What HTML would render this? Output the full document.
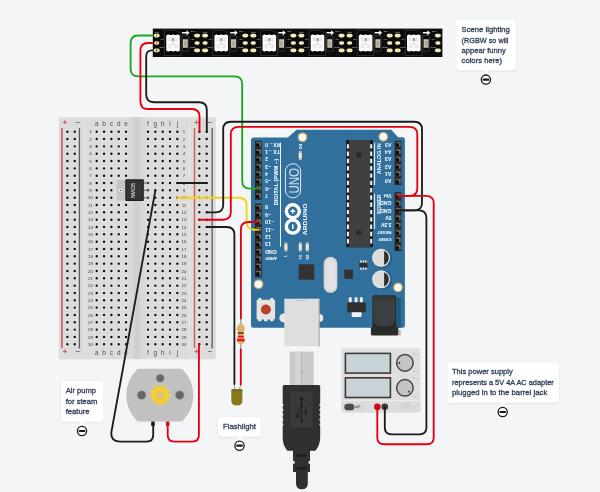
<!DOCTYPE html>
<html><head><meta charset="utf-8"><title>Circuit</title>
<style>html,body{margin:0;padding:0;background:#f4f5f7;}svg{display:block;will-change:transform}text{font-family:"Liberation Sans", sans-serif;}</style></head><body>
<svg width="600" height="492" viewBox="0 0 600 492">
<rect width="600" height="492" fill="#f4f5f7"/>
<g id="strip">
<rect x="152.8" y="28.6" width="289.6" height="28.4" fill="#0b0b0b"/>
<rect x="153.7" y="33.8" width="6" height="3.6" rx="1.8" fill="#f3e9b8"/>
<rect x="154.1" y="41.2" width="5.2" height="3.6" rx="1.8" fill="#f3e9b8"/>
<rect x="153.7" y="48.6" width="6" height="3.6" rx="1.8" fill="#f3e9b8"/>
<circle cx="156.7" cy="35.6" r="0.8" fill="#2aa52a"/>
<circle cx="156.7" cy="43" r="0.8" fill="#e03020"/>
<circle cx="156.7" cy="50.4" r="0.8" fill="#222"/>
<text x="157" y="32.6" font-size="2.5" fill="#cfcfcf" text-anchor="middle">DIN</text>
<text x="162" y="40.3" font-size="2.5" fill="#cfcfcf" text-anchor="middle">+5V</text>
<text x="162" y="47.6" font-size="2.5" fill="#cfcfcf" text-anchor="middle">GND</text>
<path d="M164.5,30.2 H177.0 L181.1,34 V55.6 H164.5 Z" fill="#060606" stroke="#4a4a4a" stroke-width="0.6"/>
<rect x="166.2" y="35.1" width="13.6" height="15.8" rx="1" fill="#fbfbfb"/>
<rect x="167.1" y="34.5" width="2.6" height="17" rx="0.8" fill="#fbfbfb"/>
<rect x="171.7" y="34.5" width="2.6" height="17" rx="0.8" fill="#fbfbfb"/>
<rect x="176.3" y="34.5" width="2.6" height="17" rx="0.8" fill="#fbfbfb"/>
<rect x="168.3" y="37.6" width="3.4" height="4" rx="0.8" fill="#ebe6ea"/>
<rect x="174.3" y="37.6" width="3.4" height="4" rx="0.8" fill="#e8e9ee"/>
<rect x="168.3" y="44" width="3.4" height="4" rx="0.8" fill="#e9ece8"/>
<rect x="174.3" y="44" width="3.4" height="4" rx="0.8" fill="#eee9e3"/>
<circle cx="173.0" cy="43.6" r="1.3" fill="#e0dcde"/>
<rect x="172.2" y="38" width="1.7" height="3.2" fill="#8e8e92"/>
<rect x="182.0" y="35.4" width="6.6" height="16" rx="1.4" fill="none" stroke="#444" stroke-width="0.7"/>
<rect x="182.9" y="39.3" width="4.8" height="8.4" fill="#d6d6d6"/>
<rect x="183.6" y="40.5" width="3.4" height="6" fill="#b9a888"/>
<path d="M182.1,32.1 h4.4 v-1.9 l3,2.6 l-3,2.6 v-1.9 h-4.4 z" fill="#f6f6f6"/>
<text x="191.1" y="31.8" font-size="2.5" fill="#cfcfcf">DO</text>
<rect x="194.1" y="33.8" width="6" height="3.6" rx="1.8" fill="#f3e9b8"/>
<rect x="194.5" y="41.2" width="5.2" height="3.6" rx="1.8" fill="#f3e9b8"/>
<rect x="194.1" y="48.6" width="6" height="3.6" rx="1.8" fill="#f3e9b8"/>
<text x="192.5" y="40.3" font-size="2.5" fill="#cfcfcf" text-anchor="middle">+5V</text>
<text x="192.5" y="47.6" font-size="2.5" fill="#cfcfcf" text-anchor="middle">GND</text>
<rect x="202.1" y="33.8" width="6" height="3.6" rx="1.8" fill="#f3e9b8"/>
<rect x="202.5" y="41.2" width="5.2" height="3.6" rx="1.8" fill="#f3e9b8"/>
<rect x="202.1" y="48.6" width="6" height="3.6" rx="1.8" fill="#f3e9b8"/>
<text x="205.1" y="32.6" font-size="2.5" fill="#cfcfcf" text-anchor="middle">DIN</text>
<text x="210.3" y="40.3" font-size="2.5" fill="#cfcfcf" text-anchor="middle">+5V</text>
<text x="210.3" y="47.6" font-size="2.5" fill="#cfcfcf" text-anchor="middle">GND</text>
<path d="M212.7,30.2 H225.2 L229.3,34 V55.6 H212.7 Z" fill="#060606" stroke="#4a4a4a" stroke-width="0.6"/>
<rect x="214.4" y="35.1" width="13.6" height="15.8" rx="1" fill="#fbfbfb"/>
<rect x="215.3" y="34.5" width="2.6" height="17" rx="0.8" fill="#fbfbfb"/>
<rect x="219.9" y="34.5" width="2.6" height="17" rx="0.8" fill="#fbfbfb"/>
<rect x="224.5" y="34.5" width="2.6" height="17" rx="0.8" fill="#fbfbfb"/>
<rect x="216.5" y="37.6" width="3.4" height="4" rx="0.8" fill="#ebe6ea"/>
<rect x="222.5" y="37.6" width="3.4" height="4" rx="0.8" fill="#e8e9ee"/>
<rect x="216.5" y="44" width="3.4" height="4" rx="0.8" fill="#e9ece8"/>
<rect x="222.5" y="44" width="3.4" height="4" rx="0.8" fill="#eee9e3"/>
<circle cx="221.2" cy="43.6" r="1.3" fill="#e0dcde"/>
<rect x="220.4" y="38" width="1.7" height="3.2" fill="#8e8e92"/>
<rect x="230.2" y="35.4" width="6.6" height="16" rx="1.4" fill="none" stroke="#444" stroke-width="0.7"/>
<rect x="231.1" y="39.3" width="4.8" height="8.4" fill="#d6d6d6"/>
<rect x="231.8" y="40.5" width="3.4" height="6" fill="#b9a888"/>
<path d="M230.3,32.1 h4.4 v-1.9 l3,2.6 l-3,2.6 v-1.9 h-4.4 z" fill="#f6f6f6"/>
<text x="239.3" y="31.8" font-size="2.5" fill="#cfcfcf">DO</text>
<rect x="242.3" y="33.8" width="6" height="3.6" rx="1.8" fill="#f3e9b8"/>
<rect x="242.7" y="41.2" width="5.2" height="3.6" rx="1.8" fill="#f3e9b8"/>
<rect x="242.3" y="48.6" width="6" height="3.6" rx="1.8" fill="#f3e9b8"/>
<text x="240.7" y="40.3" font-size="2.5" fill="#cfcfcf" text-anchor="middle">+5V</text>
<text x="240.7" y="47.6" font-size="2.5" fill="#cfcfcf" text-anchor="middle">GND</text>
<rect x="250.3" y="33.8" width="6" height="3.6" rx="1.8" fill="#f3e9b8"/>
<rect x="250.7" y="41.2" width="5.2" height="3.6" rx="1.8" fill="#f3e9b8"/>
<rect x="250.3" y="48.6" width="6" height="3.6" rx="1.8" fill="#f3e9b8"/>
<text x="253.3" y="32.6" font-size="2.5" fill="#cfcfcf" text-anchor="middle">DIN</text>
<text x="258.5" y="40.3" font-size="2.5" fill="#cfcfcf" text-anchor="middle">+5V</text>
<text x="258.5" y="47.6" font-size="2.5" fill="#cfcfcf" text-anchor="middle">GND</text>
<path d="M260.8,30.2 H273.3 L277.4,34 V55.6 H260.8 Z" fill="#060606" stroke="#4a4a4a" stroke-width="0.6"/>
<rect x="262.5" y="35.1" width="13.6" height="15.8" rx="1" fill="#fbfbfb"/>
<rect x="263.4" y="34.5" width="2.6" height="17" rx="0.8" fill="#fbfbfb"/>
<rect x="268.0" y="34.5" width="2.6" height="17" rx="0.8" fill="#fbfbfb"/>
<rect x="272.6" y="34.5" width="2.6" height="17" rx="0.8" fill="#fbfbfb"/>
<rect x="264.6" y="37.6" width="3.4" height="4" rx="0.8" fill="#ebe6ea"/>
<rect x="270.6" y="37.6" width="3.4" height="4" rx="0.8" fill="#e8e9ee"/>
<rect x="264.6" y="44" width="3.4" height="4" rx="0.8" fill="#e9ece8"/>
<rect x="270.6" y="44" width="3.4" height="4" rx="0.8" fill="#eee9e3"/>
<circle cx="269.3" cy="43.6" r="1.3" fill="#e0dcde"/>
<rect x="268.5" y="38" width="1.7" height="3.2" fill="#8e8e92"/>
<rect x="278.3" y="35.4" width="6.6" height="16" rx="1.4" fill="none" stroke="#444" stroke-width="0.7"/>
<rect x="279.2" y="39.3" width="4.8" height="8.4" fill="#d6d6d6"/>
<rect x="279.9" y="40.5" width="3.4" height="6" fill="#b9a888"/>
<path d="M278.4,32.1 h4.4 v-1.9 l3,2.6 l-3,2.6 v-1.9 h-4.4 z" fill="#f6f6f6"/>
<text x="287.4" y="31.8" font-size="2.5" fill="#cfcfcf">DO</text>
<rect x="290.4" y="33.8" width="6" height="3.6" rx="1.8" fill="#f3e9b8"/>
<rect x="290.8" y="41.2" width="5.2" height="3.6" rx="1.8" fill="#f3e9b8"/>
<rect x="290.4" y="48.6" width="6" height="3.6" rx="1.8" fill="#f3e9b8"/>
<text x="288.8" y="40.3" font-size="2.5" fill="#cfcfcf" text-anchor="middle">+5V</text>
<text x="288.8" y="47.6" font-size="2.5" fill="#cfcfcf" text-anchor="middle">GND</text>
<rect x="298.4" y="33.8" width="6" height="3.6" rx="1.8" fill="#f3e9b8"/>
<rect x="298.8" y="41.2" width="5.2" height="3.6" rx="1.8" fill="#f3e9b8"/>
<rect x="298.4" y="48.6" width="6" height="3.6" rx="1.8" fill="#f3e9b8"/>
<text x="301.4" y="32.6" font-size="2.5" fill="#cfcfcf" text-anchor="middle">DIN</text>
<text x="306.6" y="40.3" font-size="2.5" fill="#cfcfcf" text-anchor="middle">+5V</text>
<text x="306.6" y="47.6" font-size="2.5" fill="#cfcfcf" text-anchor="middle">GND</text>
<path d="M309.0,30.2 H321.5 L325.6,34 V55.6 H309.0 Z" fill="#060606" stroke="#4a4a4a" stroke-width="0.6"/>
<rect x="310.7" y="35.1" width="13.6" height="15.8" rx="1" fill="#fbfbfb"/>
<rect x="311.6" y="34.5" width="2.6" height="17" rx="0.8" fill="#fbfbfb"/>
<rect x="316.2" y="34.5" width="2.6" height="17" rx="0.8" fill="#fbfbfb"/>
<rect x="320.8" y="34.5" width="2.6" height="17" rx="0.8" fill="#fbfbfb"/>
<rect x="312.8" y="37.6" width="3.4" height="4" rx="0.8" fill="#ebe6ea"/>
<rect x="318.8" y="37.6" width="3.4" height="4" rx="0.8" fill="#e8e9ee"/>
<rect x="312.8" y="44" width="3.4" height="4" rx="0.8" fill="#e9ece8"/>
<rect x="318.8" y="44" width="3.4" height="4" rx="0.8" fill="#eee9e3"/>
<circle cx="317.5" cy="43.6" r="1.3" fill="#e0dcde"/>
<rect x="316.7" y="38" width="1.7" height="3.2" fill="#8e8e92"/>
<rect x="326.5" y="35.4" width="6.6" height="16" rx="1.4" fill="none" stroke="#444" stroke-width="0.7"/>
<rect x="327.4" y="39.3" width="4.8" height="8.4" fill="#d6d6d6"/>
<rect x="328.1" y="40.5" width="3.4" height="6" fill="#b9a888"/>
<path d="M326.6,32.1 h4.4 v-1.9 l3,2.6 l-3,2.6 v-1.9 h-4.4 z" fill="#f6f6f6"/>
<text x="335.6" y="31.8" font-size="2.5" fill="#cfcfcf">DO</text>
<rect x="338.6" y="33.8" width="6" height="3.6" rx="1.8" fill="#f3e9b8"/>
<rect x="339.0" y="41.2" width="5.2" height="3.6" rx="1.8" fill="#f3e9b8"/>
<rect x="338.6" y="48.6" width="6" height="3.6" rx="1.8" fill="#f3e9b8"/>
<text x="337.0" y="40.3" font-size="2.5" fill="#cfcfcf" text-anchor="middle">+5V</text>
<text x="337.0" y="47.6" font-size="2.5" fill="#cfcfcf" text-anchor="middle">GND</text>
<rect x="346.6" y="33.8" width="6" height="3.6" rx="1.8" fill="#f3e9b8"/>
<rect x="347.0" y="41.2" width="5.2" height="3.6" rx="1.8" fill="#f3e9b8"/>
<rect x="346.6" y="48.6" width="6" height="3.6" rx="1.8" fill="#f3e9b8"/>
<text x="349.6" y="32.6" font-size="2.5" fill="#cfcfcf" text-anchor="middle">DIN</text>
<text x="354.8" y="40.3" font-size="2.5" fill="#cfcfcf" text-anchor="middle">+5V</text>
<text x="354.8" y="47.6" font-size="2.5" fill="#cfcfcf" text-anchor="middle">GND</text>
<path d="M357.1,30.2 H369.6 L373.7,34 V55.6 H357.1 Z" fill="#060606" stroke="#4a4a4a" stroke-width="0.6"/>
<rect x="358.8" y="35.1" width="13.6" height="15.8" rx="1" fill="#fbfbfb"/>
<rect x="359.7" y="34.5" width="2.6" height="17" rx="0.8" fill="#fbfbfb"/>
<rect x="364.3" y="34.5" width="2.6" height="17" rx="0.8" fill="#fbfbfb"/>
<rect x="368.9" y="34.5" width="2.6" height="17" rx="0.8" fill="#fbfbfb"/>
<rect x="360.9" y="37.6" width="3.4" height="4" rx="0.8" fill="#ebe6ea"/>
<rect x="366.9" y="37.6" width="3.4" height="4" rx="0.8" fill="#e8e9ee"/>
<rect x="360.9" y="44" width="3.4" height="4" rx="0.8" fill="#e9ece8"/>
<rect x="366.9" y="44" width="3.4" height="4" rx="0.8" fill="#eee9e3"/>
<circle cx="365.6" cy="43.6" r="1.3" fill="#e0dcde"/>
<rect x="364.8" y="38" width="1.7" height="3.2" fill="#8e8e92"/>
<rect x="374.6" y="35.4" width="6.6" height="16" rx="1.4" fill="none" stroke="#444" stroke-width="0.7"/>
<rect x="375.5" y="39.3" width="4.8" height="8.4" fill="#d6d6d6"/>
<rect x="376.2" y="40.5" width="3.4" height="6" fill="#b9a888"/>
<path d="M374.7,32.1 h4.4 v-1.9 l3,2.6 l-3,2.6 v-1.9 h-4.4 z" fill="#f6f6f6"/>
<text x="383.7" y="31.8" font-size="2.5" fill="#cfcfcf">DO</text>
<rect x="386.7" y="33.8" width="6" height="3.6" rx="1.8" fill="#f3e9b8"/>
<rect x="387.1" y="41.2" width="5.2" height="3.6" rx="1.8" fill="#f3e9b8"/>
<rect x="386.7" y="48.6" width="6" height="3.6" rx="1.8" fill="#f3e9b8"/>
<text x="385.1" y="40.3" font-size="2.5" fill="#cfcfcf" text-anchor="middle">+5V</text>
<text x="385.1" y="47.6" font-size="2.5" fill="#cfcfcf" text-anchor="middle">GND</text>
<rect x="394.7" y="33.8" width="6" height="3.6" rx="1.8" fill="#f3e9b8"/>
<rect x="395.1" y="41.2" width="5.2" height="3.6" rx="1.8" fill="#f3e9b8"/>
<rect x="394.7" y="48.6" width="6" height="3.6" rx="1.8" fill="#f3e9b8"/>
<text x="397.7" y="32.6" font-size="2.5" fill="#cfcfcf" text-anchor="middle">DIN</text>
<text x="402.9" y="40.3" font-size="2.5" fill="#cfcfcf" text-anchor="middle">+5V</text>
<text x="402.9" y="47.6" font-size="2.5" fill="#cfcfcf" text-anchor="middle">GND</text>
<path d="M405.3,30.2 H417.8 L421.9,34 V55.6 H405.3 Z" fill="#060606" stroke="#4a4a4a" stroke-width="0.6"/>
<rect x="407.0" y="35.1" width="13.6" height="15.8" rx="1" fill="#fbfbfb"/>
<rect x="407.9" y="34.5" width="2.6" height="17" rx="0.8" fill="#fbfbfb"/>
<rect x="412.5" y="34.5" width="2.6" height="17" rx="0.8" fill="#fbfbfb"/>
<rect x="417.1" y="34.5" width="2.6" height="17" rx="0.8" fill="#fbfbfb"/>
<rect x="409.1" y="37.6" width="3.4" height="4" rx="0.8" fill="#ebe6ea"/>
<rect x="415.1" y="37.6" width="3.4" height="4" rx="0.8" fill="#e8e9ee"/>
<rect x="409.1" y="44" width="3.4" height="4" rx="0.8" fill="#e9ece8"/>
<rect x="415.1" y="44" width="3.4" height="4" rx="0.8" fill="#eee9e3"/>
<circle cx="413.8" cy="43.6" r="1.3" fill="#e0dcde"/>
<rect x="413.0" y="38" width="1.7" height="3.2" fill="#8e8e92"/>
<rect x="422.8" y="35.4" width="6.6" height="16" rx="1.4" fill="none" stroke="#444" stroke-width="0.7"/>
<rect x="423.7" y="39.3" width="4.8" height="8.4" fill="#d6d6d6"/>
<rect x="424.4" y="40.5" width="3.4" height="6" fill="#b9a888"/>
<path d="M422.9,32.1 h4.4 v-1.9 l3,2.6 l-3,2.6 v-1.9 h-4.4 z" fill="#f6f6f6"/>
<text x="431.9" y="31.8" font-size="2.5" fill="#cfcfcf">DO</text>
<rect x="434.9" y="33.8" width="6" height="3.6" rx="1.8" fill="#f3e9b8"/>
<rect x="435.3" y="41.2" width="5.2" height="3.6" rx="1.8" fill="#f3e9b8"/>
<rect x="434.9" y="48.6" width="6" height="3.6" rx="1.8" fill="#f3e9b8"/>
<text x="433.3" y="40.3" font-size="2.5" fill="#cfcfcf" text-anchor="middle">+5V</text>
<text x="433.3" y="47.6" font-size="2.5" fill="#cfcfcf" text-anchor="middle">GND</text>
</g>
<g id="breadboard">
<rect x="58.8" y="116.9" width="157" height="242.4" rx="2" fill="#dcdcdc"/>
<rect x="58.8" y="116.9" width="157" height="1" fill="#e6e6e6"/>
<rect x="84.6" y="117" width="1" height="241.8" fill="#e6e6e6"/>
<rect x="189" y="117" width="1" height="241.8" fill="#e6e6e6"/>
<rect x="133.8" y="117" width="6.2" height="241.8" fill="#d0d0d0"/>
<rect x="128.6" y="117" width="5.2" height="241.8" fill="#d8d8d8"/>
<rect x="140" y="117" width="5.2" height="241.8" fill="#d8d8d8"/>
<rect x="61.1" y="128" width="1.6" height="220" fill="#cc5f58"/>
<rect x="78.8" y="128" width="1.3" height="220.4" fill="#5a5a5a"/>
<rect x="193.8" y="128" width="1.4" height="220" fill="#cc5f58"/>
<rect x="211.5" y="128" width="1.3" height="220.4" fill="#5a5a5a"/>
<path d="M67.40,131.70h0M67.40,139.03h0M67.40,146.36h0M67.40,153.69h0M67.40,161.02h0M67.40,168.35h0M67.40,175.68h0M67.40,183.01h0M67.40,190.34h0M67.40,197.67h0M67.40,205.00h0M67.40,212.33h0M67.40,219.66h0M67.40,226.99h0M67.40,234.32h0M67.40,241.65h0M67.40,248.98h0M67.40,256.31h0M67.40,263.64h0M67.40,270.97h0M67.40,278.30h0M67.40,285.63h0M67.40,292.96h0M67.40,300.29h0M67.40,307.62h0M67.40,314.95h0M67.40,322.28h0M67.40,329.61h0M67.40,336.94h0M67.40,344.27h0M74.73,131.70h0M74.73,139.03h0M74.73,146.36h0M74.73,153.69h0M74.73,161.02h0M74.73,168.35h0M74.73,175.68h0M74.73,183.01h0M74.73,190.34h0M74.73,197.67h0M74.73,205.00h0M74.73,212.33h0M74.73,219.66h0M74.73,226.99h0M74.73,234.32h0M74.73,241.65h0M74.73,248.98h0M74.73,256.31h0M74.73,263.64h0M74.73,270.97h0M74.73,278.30h0M74.73,285.63h0M74.73,292.96h0M74.73,300.29h0M74.73,307.62h0M74.73,314.95h0M74.73,322.28h0M74.73,329.61h0M74.73,336.94h0M74.73,344.27h0M96.72,131.70h0M96.72,139.03h0M96.72,146.36h0M96.72,153.69h0M96.72,161.02h0M96.72,168.35h0M96.72,175.68h0M96.72,183.01h0M96.72,190.34h0M96.72,197.67h0M96.72,205.00h0M96.72,212.33h0M96.72,219.66h0M96.72,226.99h0M96.72,234.32h0M96.72,241.65h0M96.72,248.98h0M96.72,256.31h0M96.72,263.64h0M96.72,270.97h0M96.72,278.30h0M96.72,285.63h0M96.72,292.96h0M96.72,300.29h0M96.72,307.62h0M96.72,314.95h0M96.72,322.28h0M96.72,329.61h0M96.72,336.94h0M96.72,344.27h0M104.05,131.70h0M104.05,139.03h0M104.05,146.36h0M104.05,153.69h0M104.05,161.02h0M104.05,168.35h0M104.05,175.68h0M104.05,183.01h0M104.05,190.34h0M104.05,197.67h0M104.05,205.00h0M104.05,212.33h0M104.05,219.66h0M104.05,226.99h0M104.05,234.32h0M104.05,241.65h0M104.05,248.98h0M104.05,256.31h0M104.05,263.64h0M104.05,270.97h0M104.05,278.30h0M104.05,285.63h0M104.05,292.96h0M104.05,300.29h0M104.05,307.62h0M104.05,314.95h0M104.05,322.28h0M104.05,329.61h0M104.05,336.94h0M104.05,344.27h0M111.38,131.70h0M111.38,139.03h0M111.38,146.36h0M111.38,153.69h0M111.38,161.02h0M111.38,168.35h0M111.38,175.68h0M111.38,183.01h0M111.38,190.34h0M111.38,197.67h0M111.38,205.00h0M111.38,212.33h0M111.38,219.66h0M111.38,226.99h0M111.38,234.32h0M111.38,241.65h0M111.38,248.98h0M111.38,256.31h0M111.38,263.64h0M111.38,270.97h0M111.38,278.30h0M111.38,285.63h0M111.38,292.96h0M111.38,300.29h0M111.38,307.62h0M111.38,314.95h0M111.38,322.28h0M111.38,329.61h0M111.38,336.94h0M111.38,344.27h0M118.71,131.70h0M118.71,139.03h0M118.71,146.36h0M118.71,153.69h0M118.71,161.02h0M118.71,168.35h0M118.71,175.68h0M118.71,183.01h0M118.71,190.34h0M118.71,197.67h0M118.71,205.00h0M118.71,212.33h0M118.71,219.66h0M118.71,226.99h0M118.71,234.32h0M118.71,241.65h0M118.71,248.98h0M118.71,256.31h0M118.71,263.64h0M118.71,270.97h0M118.71,278.30h0M118.71,285.63h0M118.71,292.96h0M118.71,300.29h0M118.71,307.62h0M118.71,314.95h0M118.71,322.28h0M118.71,329.61h0M118.71,336.94h0M118.71,344.27h0M126.04,131.70h0M126.04,139.03h0M126.04,146.36h0M126.04,153.69h0M126.04,161.02h0M126.04,168.35h0M126.04,175.68h0M126.04,183.01h0M126.04,190.34h0M126.04,197.67h0M126.04,205.00h0M126.04,212.33h0M126.04,219.66h0M126.04,226.99h0M126.04,234.32h0M126.04,241.65h0M126.04,248.98h0M126.04,256.31h0M126.04,263.64h0M126.04,270.97h0M126.04,278.30h0M126.04,285.63h0M126.04,292.96h0M126.04,300.29h0M126.04,307.62h0M126.04,314.95h0M126.04,322.28h0M126.04,329.61h0M126.04,336.94h0M126.04,344.27h0M148.03,131.70h0M148.03,139.03h0M148.03,146.36h0M148.03,153.69h0M148.03,161.02h0M148.03,168.35h0M148.03,175.68h0M148.03,183.01h0M148.03,190.34h0M148.03,197.67h0M148.03,205.00h0M148.03,212.33h0M148.03,219.66h0M148.03,226.99h0M148.03,234.32h0M148.03,241.65h0M148.03,248.98h0M148.03,256.31h0M148.03,263.64h0M148.03,270.97h0M148.03,278.30h0M148.03,285.63h0M148.03,292.96h0M148.03,300.29h0M148.03,307.62h0M148.03,314.95h0M148.03,322.28h0M148.03,329.61h0M148.03,336.94h0M148.03,344.27h0M155.36,131.70h0M155.36,139.03h0M155.36,146.36h0M155.36,153.69h0M155.36,161.02h0M155.36,168.35h0M155.36,175.68h0M155.36,183.01h0M155.36,190.34h0M155.36,197.67h0M155.36,205.00h0M155.36,212.33h0M155.36,219.66h0M155.36,226.99h0M155.36,234.32h0M155.36,241.65h0M155.36,248.98h0M155.36,256.31h0M155.36,263.64h0M155.36,270.97h0M155.36,278.30h0M155.36,285.63h0M155.36,292.96h0M155.36,300.29h0M155.36,307.62h0M155.36,314.95h0M155.36,322.28h0M155.36,329.61h0M155.36,336.94h0M155.36,344.27h0M162.69,131.70h0M162.69,139.03h0M162.69,146.36h0M162.69,153.69h0M162.69,161.02h0M162.69,168.35h0M162.69,175.68h0M162.69,183.01h0M162.69,190.34h0M162.69,197.67h0M162.69,205.00h0M162.69,212.33h0M162.69,219.66h0M162.69,226.99h0M162.69,234.32h0M162.69,241.65h0M162.69,248.98h0M162.69,256.31h0M162.69,263.64h0M162.69,270.97h0M162.69,278.30h0M162.69,285.63h0M162.69,292.96h0M162.69,300.29h0M162.69,307.62h0M162.69,314.95h0M162.69,322.28h0M162.69,329.61h0M162.69,336.94h0M162.69,344.27h0M170.02,131.70h0M170.02,139.03h0M170.02,146.36h0M170.02,153.69h0M170.02,161.02h0M170.02,168.35h0M170.02,175.68h0M170.02,183.01h0M170.02,190.34h0M170.02,197.67h0M170.02,205.00h0M170.02,212.33h0M170.02,219.66h0M170.02,226.99h0M170.02,234.32h0M170.02,241.65h0M170.02,248.98h0M170.02,256.31h0M170.02,263.64h0M170.02,270.97h0M170.02,278.30h0M170.02,285.63h0M170.02,292.96h0M170.02,300.29h0M170.02,307.62h0M170.02,314.95h0M170.02,322.28h0M170.02,329.61h0M170.02,336.94h0M170.02,344.27h0M177.35,131.70h0M177.35,139.03h0M177.35,146.36h0M177.35,153.69h0M177.35,161.02h0M177.35,168.35h0M177.35,175.68h0M177.35,183.01h0M177.35,190.34h0M177.35,197.67h0M177.35,205.00h0M177.35,212.33h0M177.35,219.66h0M177.35,226.99h0M177.35,234.32h0M177.35,241.65h0M177.35,248.98h0M177.35,256.31h0M177.35,263.64h0M177.35,270.97h0M177.35,278.30h0M177.35,285.63h0M177.35,292.96h0M177.35,300.29h0M177.35,307.62h0M177.35,314.95h0M177.35,322.28h0M177.35,329.61h0M177.35,336.94h0M177.35,344.27h0M199.34,131.70h0M199.34,139.03h0M199.34,146.36h0M199.34,153.69h0M199.34,161.02h0M199.34,168.35h0M199.34,175.68h0M199.34,183.01h0M199.34,190.34h0M199.34,197.67h0M199.34,205.00h0M199.34,212.33h0M199.34,219.66h0M199.34,226.99h0M199.34,234.32h0M199.34,241.65h0M199.34,248.98h0M199.34,256.31h0M199.34,263.64h0M199.34,270.97h0M199.34,278.30h0M199.34,285.63h0M199.34,292.96h0M199.34,300.29h0M199.34,307.62h0M199.34,314.95h0M199.34,322.28h0M199.34,329.61h0M199.34,336.94h0M199.34,344.27h0M206.67,131.70h0M206.67,139.03h0M206.67,146.36h0M206.67,153.69h0M206.67,161.02h0M206.67,168.35h0M206.67,175.68h0M206.67,183.01h0M206.67,190.34h0M206.67,197.67h0M206.67,205.00h0M206.67,212.33h0M206.67,219.66h0M206.67,226.99h0M206.67,234.32h0M206.67,241.65h0M206.67,248.98h0M206.67,256.31h0M206.67,263.64h0M206.67,270.97h0M206.67,278.30h0M206.67,285.63h0M206.67,292.96h0M206.67,300.29h0M206.67,307.62h0M206.67,314.95h0M206.67,322.28h0M206.67,329.61h0M206.67,336.94h0M206.67,344.27h0" fill="none" stroke="#e9e9e9" stroke-width="3.7" stroke-linecap="round"/>
<path d="M67.40,131.70h0M67.40,139.03h0M67.40,146.36h0M67.40,153.69h0M67.40,161.02h0M67.40,168.35h0M67.40,175.68h0M67.40,183.01h0M67.40,190.34h0M67.40,197.67h0M67.40,205.00h0M67.40,212.33h0M67.40,219.66h0M67.40,226.99h0M67.40,234.32h0M67.40,241.65h0M67.40,248.98h0M67.40,256.31h0M67.40,263.64h0M67.40,270.97h0M67.40,278.30h0M67.40,285.63h0M67.40,292.96h0M67.40,300.29h0M67.40,307.62h0M67.40,314.95h0M67.40,322.28h0M67.40,329.61h0M67.40,336.94h0M67.40,344.27h0M74.73,131.70h0M74.73,139.03h0M74.73,146.36h0M74.73,153.69h0M74.73,161.02h0M74.73,168.35h0M74.73,175.68h0M74.73,183.01h0M74.73,190.34h0M74.73,197.67h0M74.73,205.00h0M74.73,212.33h0M74.73,219.66h0M74.73,226.99h0M74.73,234.32h0M74.73,241.65h0M74.73,248.98h0M74.73,256.31h0M74.73,263.64h0M74.73,270.97h0M74.73,278.30h0M74.73,285.63h0M74.73,292.96h0M74.73,300.29h0M74.73,307.62h0M74.73,314.95h0M74.73,322.28h0M74.73,329.61h0M74.73,336.94h0M74.73,344.27h0M96.72,131.70h0M96.72,139.03h0M96.72,146.36h0M96.72,153.69h0M96.72,161.02h0M96.72,168.35h0M96.72,175.68h0M96.72,183.01h0M96.72,190.34h0M96.72,197.67h0M96.72,205.00h0M96.72,212.33h0M96.72,219.66h0M96.72,226.99h0M96.72,234.32h0M96.72,241.65h0M96.72,248.98h0M96.72,256.31h0M96.72,263.64h0M96.72,270.97h0M96.72,278.30h0M96.72,285.63h0M96.72,292.96h0M96.72,300.29h0M96.72,307.62h0M96.72,314.95h0M96.72,322.28h0M96.72,329.61h0M96.72,336.94h0M96.72,344.27h0M104.05,131.70h0M104.05,139.03h0M104.05,146.36h0M104.05,153.69h0M104.05,161.02h0M104.05,168.35h0M104.05,175.68h0M104.05,183.01h0M104.05,190.34h0M104.05,197.67h0M104.05,205.00h0M104.05,212.33h0M104.05,219.66h0M104.05,226.99h0M104.05,234.32h0M104.05,241.65h0M104.05,248.98h0M104.05,256.31h0M104.05,263.64h0M104.05,270.97h0M104.05,278.30h0M104.05,285.63h0M104.05,292.96h0M104.05,300.29h0M104.05,307.62h0M104.05,314.95h0M104.05,322.28h0M104.05,329.61h0M104.05,336.94h0M104.05,344.27h0M111.38,131.70h0M111.38,139.03h0M111.38,146.36h0M111.38,153.69h0M111.38,161.02h0M111.38,168.35h0M111.38,175.68h0M111.38,183.01h0M111.38,190.34h0M111.38,197.67h0M111.38,205.00h0M111.38,212.33h0M111.38,219.66h0M111.38,226.99h0M111.38,234.32h0M111.38,241.65h0M111.38,248.98h0M111.38,256.31h0M111.38,263.64h0M111.38,270.97h0M111.38,278.30h0M111.38,285.63h0M111.38,292.96h0M111.38,300.29h0M111.38,307.62h0M111.38,314.95h0M111.38,322.28h0M111.38,329.61h0M111.38,336.94h0M111.38,344.27h0M118.71,131.70h0M118.71,139.03h0M118.71,146.36h0M118.71,153.69h0M118.71,161.02h0M118.71,168.35h0M118.71,175.68h0M118.71,183.01h0M118.71,190.34h0M118.71,197.67h0M118.71,205.00h0M118.71,212.33h0M118.71,219.66h0M118.71,226.99h0M118.71,234.32h0M118.71,241.65h0M118.71,248.98h0M118.71,256.31h0M118.71,263.64h0M118.71,270.97h0M118.71,278.30h0M118.71,285.63h0M118.71,292.96h0M118.71,300.29h0M118.71,307.62h0M118.71,314.95h0M118.71,322.28h0M118.71,329.61h0M118.71,336.94h0M118.71,344.27h0M126.04,131.70h0M126.04,139.03h0M126.04,146.36h0M126.04,153.69h0M126.04,161.02h0M126.04,168.35h0M126.04,175.68h0M126.04,183.01h0M126.04,190.34h0M126.04,197.67h0M126.04,205.00h0M126.04,212.33h0M126.04,219.66h0M126.04,226.99h0M126.04,234.32h0M126.04,241.65h0M126.04,248.98h0M126.04,256.31h0M126.04,263.64h0M126.04,270.97h0M126.04,278.30h0M126.04,285.63h0M126.04,292.96h0M126.04,300.29h0M126.04,307.62h0M126.04,314.95h0M126.04,322.28h0M126.04,329.61h0M126.04,336.94h0M126.04,344.27h0M148.03,131.70h0M148.03,139.03h0M148.03,146.36h0M148.03,153.69h0M148.03,161.02h0M148.03,168.35h0M148.03,175.68h0M148.03,183.01h0M148.03,190.34h0M148.03,197.67h0M148.03,205.00h0M148.03,212.33h0M148.03,219.66h0M148.03,226.99h0M148.03,234.32h0M148.03,241.65h0M148.03,248.98h0M148.03,256.31h0M148.03,263.64h0M148.03,270.97h0M148.03,278.30h0M148.03,285.63h0M148.03,292.96h0M148.03,300.29h0M148.03,307.62h0M148.03,314.95h0M148.03,322.28h0M148.03,329.61h0M148.03,336.94h0M148.03,344.27h0M155.36,131.70h0M155.36,139.03h0M155.36,146.36h0M155.36,153.69h0M155.36,161.02h0M155.36,168.35h0M155.36,175.68h0M155.36,183.01h0M155.36,190.34h0M155.36,197.67h0M155.36,205.00h0M155.36,212.33h0M155.36,219.66h0M155.36,226.99h0M155.36,234.32h0M155.36,241.65h0M155.36,248.98h0M155.36,256.31h0M155.36,263.64h0M155.36,270.97h0M155.36,278.30h0M155.36,285.63h0M155.36,292.96h0M155.36,300.29h0M155.36,307.62h0M155.36,314.95h0M155.36,322.28h0M155.36,329.61h0M155.36,336.94h0M155.36,344.27h0M162.69,131.70h0M162.69,139.03h0M162.69,146.36h0M162.69,153.69h0M162.69,161.02h0M162.69,168.35h0M162.69,175.68h0M162.69,183.01h0M162.69,190.34h0M162.69,197.67h0M162.69,205.00h0M162.69,212.33h0M162.69,219.66h0M162.69,226.99h0M162.69,234.32h0M162.69,241.65h0M162.69,248.98h0M162.69,256.31h0M162.69,263.64h0M162.69,270.97h0M162.69,278.30h0M162.69,285.63h0M162.69,292.96h0M162.69,300.29h0M162.69,307.62h0M162.69,314.95h0M162.69,322.28h0M162.69,329.61h0M162.69,336.94h0M162.69,344.27h0M170.02,131.70h0M170.02,139.03h0M170.02,146.36h0M170.02,153.69h0M170.02,161.02h0M170.02,168.35h0M170.02,175.68h0M170.02,183.01h0M170.02,190.34h0M170.02,197.67h0M170.02,205.00h0M170.02,212.33h0M170.02,219.66h0M170.02,226.99h0M170.02,234.32h0M170.02,241.65h0M170.02,248.98h0M170.02,256.31h0M170.02,263.64h0M170.02,270.97h0M170.02,278.30h0M170.02,285.63h0M170.02,292.96h0M170.02,300.29h0M170.02,307.62h0M170.02,314.95h0M170.02,322.28h0M170.02,329.61h0M170.02,336.94h0M170.02,344.27h0M177.35,131.70h0M177.35,139.03h0M177.35,146.36h0M177.35,153.69h0M177.35,161.02h0M177.35,168.35h0M177.35,175.68h0M177.35,183.01h0M177.35,190.34h0M177.35,197.67h0M177.35,205.00h0M177.35,212.33h0M177.35,219.66h0M177.35,226.99h0M177.35,234.32h0M177.35,241.65h0M177.35,248.98h0M177.35,256.31h0M177.35,263.64h0M177.35,270.97h0M177.35,278.30h0M177.35,285.63h0M177.35,292.96h0M177.35,300.29h0M177.35,307.62h0M177.35,314.95h0M177.35,322.28h0M177.35,329.61h0M177.35,336.94h0M177.35,344.27h0M199.34,131.70h0M199.34,139.03h0M199.34,146.36h0M199.34,153.69h0M199.34,161.02h0M199.34,168.35h0M199.34,175.68h0M199.34,183.01h0M199.34,190.34h0M199.34,197.67h0M199.34,205.00h0M199.34,212.33h0M199.34,219.66h0M199.34,226.99h0M199.34,234.32h0M199.34,241.65h0M199.34,248.98h0M199.34,256.31h0M199.34,263.64h0M199.34,270.97h0M199.34,278.30h0M199.34,285.63h0M199.34,292.96h0M199.34,300.29h0M199.34,307.62h0M199.34,314.95h0M199.34,322.28h0M199.34,329.61h0M199.34,336.94h0M199.34,344.27h0M206.67,131.70h0M206.67,139.03h0M206.67,146.36h0M206.67,153.69h0M206.67,161.02h0M206.67,168.35h0M206.67,175.68h0M206.67,183.01h0M206.67,190.34h0M206.67,197.67h0M206.67,205.00h0M206.67,212.33h0M206.67,219.66h0M206.67,226.99h0M206.67,234.32h0M206.67,241.65h0M206.67,248.98h0M206.67,256.31h0M206.67,263.64h0M206.67,270.97h0M206.67,278.30h0M206.67,285.63h0M206.67,292.96h0M206.67,300.29h0M206.67,307.62h0M206.67,314.95h0M206.67,322.28h0M206.67,329.61h0M206.67,336.94h0M206.67,344.27h0" fill="none" stroke="#0c0c0c" stroke-width="2.45" stroke-linecap="round"/>
<text x="96.7" y="125.8" font-size="6.4" fill="#4c4c4c" text-anchor="middle">a</text>
<text x="104.1" y="125.8" font-size="6.4" fill="#4c4c4c" text-anchor="middle">b</text>
<text x="111.4" y="125.8" font-size="6.4" fill="#4c4c4c" text-anchor="middle">c</text>
<text x="118.7" y="125.8" font-size="6.4" fill="#4c4c4c" text-anchor="middle">d</text>
<text x="126.0" y="125.8" font-size="6.4" fill="#4c4c4c" text-anchor="middle">e</text>
<text x="148.0" y="125.8" font-size="6.4" fill="#4c4c4c" text-anchor="middle">f</text>
<text x="155.4" y="125.8" font-size="6.4" fill="#4c4c4c" text-anchor="middle">g</text>
<text x="162.7" y="125.8" font-size="6.4" fill="#4c4c4c" text-anchor="middle">h</text>
<text x="170.0" y="125.8" font-size="6.4" fill="#4c4c4c" text-anchor="middle">i</text>
<text x="177.4" y="125.8" font-size="6.4" fill="#4c4c4c" text-anchor="middle">j</text>
<text x="64.8" y="125.0" font-size="7.4" fill="#c8403a" stroke="#c8403a" stroke-width="0.25" text-anchor="middle">+</text>
<text x="77.6" y="125.0" font-size="7.4" fill="#666" stroke="#666" stroke-width="0.25" text-anchor="middle">−</text>
<text x="196.6" y="125.0" font-size="7.4" fill="#c8403a" stroke="#c8403a" stroke-width="0.25" text-anchor="middle">+</text>
<text x="209.8" y="125.0" font-size="7.4" fill="#666" stroke="#666" stroke-width="0.25" text-anchor="middle">−</text>
<text x="96.7" y="354.6" font-size="6.4" fill="#4c4c4c" text-anchor="middle">a</text>
<text x="104.1" y="354.6" font-size="6.4" fill="#4c4c4c" text-anchor="middle">b</text>
<text x="111.4" y="354.6" font-size="6.4" fill="#4c4c4c" text-anchor="middle">c</text>
<text x="118.7" y="354.6" font-size="6.4" fill="#4c4c4c" text-anchor="middle">d</text>
<text x="126.0" y="354.6" font-size="6.4" fill="#4c4c4c" text-anchor="middle">e</text>
<text x="148.0" y="354.6" font-size="6.4" fill="#4c4c4c" text-anchor="middle">f</text>
<text x="155.4" y="354.6" font-size="6.4" fill="#4c4c4c" text-anchor="middle">g</text>
<text x="162.7" y="354.6" font-size="6.4" fill="#4c4c4c" text-anchor="middle">h</text>
<text x="170.0" y="354.6" font-size="6.4" fill="#4c4c4c" text-anchor="middle">i</text>
<text x="177.4" y="354.6" font-size="6.4" fill="#4c4c4c" text-anchor="middle">j</text>
<text x="64.8" y="353.8" font-size="7.4" fill="#c8403a" stroke="#c8403a" stroke-width="0.25" text-anchor="middle">+</text>
<text x="77.6" y="353.8" font-size="7.4" fill="#666" stroke="#666" stroke-width="0.25" text-anchor="middle">−</text>
<text x="196.6" y="353.8" font-size="7.4" fill="#c8403a" stroke="#c8403a" stroke-width="0.25" text-anchor="middle">+</text>
<text x="209.8" y="353.8" font-size="7.4" fill="#666" stroke="#666" stroke-width="0.25" text-anchor="middle">−</text>
<text x="90.4" y="133.3" font-size="4.4" fill="#3a3a3a" text-anchor="middle">1</text>
<text x="184" y="133.3" font-size="4.4" fill="#3a3a3a" text-anchor="middle">1</text>
<text x="90.4" y="140.6" font-size="4.4" fill="#3a3a3a" text-anchor="middle">2</text>
<text x="184" y="140.6" font-size="4.4" fill="#3a3a3a" text-anchor="middle">2</text>
<text x="90.4" y="148.0" font-size="4.4" fill="#3a3a3a" text-anchor="middle">3</text>
<text x="184" y="148.0" font-size="4.4" fill="#3a3a3a" text-anchor="middle">3</text>
<text x="90.4" y="155.3" font-size="4.4" fill="#3a3a3a" text-anchor="middle">4</text>
<text x="184" y="155.3" font-size="4.4" fill="#3a3a3a" text-anchor="middle">4</text>
<text x="90.4" y="162.6" font-size="4.4" fill="#3a3a3a" text-anchor="middle">5</text>
<text x="184" y="162.6" font-size="4.4" fill="#3a3a3a" text-anchor="middle">5</text>
<text x="90.4" y="169.9" font-size="4.4" fill="#3a3a3a" text-anchor="middle">6</text>
<text x="184" y="169.9" font-size="4.4" fill="#3a3a3a" text-anchor="middle">6</text>
<text x="90.4" y="177.3" font-size="4.4" fill="#3a3a3a" text-anchor="middle">7</text>
<text x="184" y="177.3" font-size="4.4" fill="#3a3a3a" text-anchor="middle">7</text>
<text x="90.4" y="184.6" font-size="4.4" fill="#3a3a3a" text-anchor="middle">8</text>
<text x="184" y="184.6" font-size="4.4" fill="#3a3a3a" text-anchor="middle">8</text>
<text x="90.4" y="191.9" font-size="4.4" fill="#3a3a3a" text-anchor="middle">9</text>
<text x="184" y="191.9" font-size="4.4" fill="#3a3a3a" text-anchor="middle">9</text>
<text x="90.4" y="199.3" font-size="4.4" fill="#3a3a3a" text-anchor="middle">10</text>
<text x="184" y="199.3" font-size="4.4" fill="#3a3a3a" text-anchor="middle">10</text>
<text x="90.4" y="206.6" font-size="4.4" fill="#3a3a3a" text-anchor="middle">11</text>
<text x="184" y="206.6" font-size="4.4" fill="#3a3a3a" text-anchor="middle">11</text>
<text x="90.4" y="213.9" font-size="4.4" fill="#3a3a3a" text-anchor="middle">12</text>
<text x="184" y="213.9" font-size="4.4" fill="#3a3a3a" text-anchor="middle">12</text>
<text x="90.4" y="221.3" font-size="4.4" fill="#3a3a3a" text-anchor="middle">13</text>
<text x="184" y="221.3" font-size="4.4" fill="#3a3a3a" text-anchor="middle">13</text>
<text x="90.4" y="228.6" font-size="4.4" fill="#3a3a3a" text-anchor="middle">14</text>
<text x="184" y="228.6" font-size="4.4" fill="#3a3a3a" text-anchor="middle">14</text>
<text x="90.4" y="235.9" font-size="4.4" fill="#3a3a3a" text-anchor="middle">15</text>
<text x="184" y="235.9" font-size="4.4" fill="#3a3a3a" text-anchor="middle">15</text>
<text x="90.4" y="243.2" font-size="4.4" fill="#3a3a3a" text-anchor="middle">16</text>
<text x="184" y="243.2" font-size="4.4" fill="#3a3a3a" text-anchor="middle">16</text>
<text x="90.4" y="250.6" font-size="4.4" fill="#3a3a3a" text-anchor="middle">17</text>
<text x="184" y="250.6" font-size="4.4" fill="#3a3a3a" text-anchor="middle">17</text>
<text x="90.4" y="257.9" font-size="4.4" fill="#3a3a3a" text-anchor="middle">18</text>
<text x="184" y="257.9" font-size="4.4" fill="#3a3a3a" text-anchor="middle">18</text>
<text x="90.4" y="265.2" font-size="4.4" fill="#3a3a3a" text-anchor="middle">19</text>
<text x="184" y="265.2" font-size="4.4" fill="#3a3a3a" text-anchor="middle">19</text>
<text x="90.4" y="272.6" font-size="4.4" fill="#3a3a3a" text-anchor="middle">20</text>
<text x="184" y="272.6" font-size="4.4" fill="#3a3a3a" text-anchor="middle">20</text>
<text x="90.4" y="279.9" font-size="4.4" fill="#3a3a3a" text-anchor="middle">21</text>
<text x="184" y="279.9" font-size="4.4" fill="#3a3a3a" text-anchor="middle">21</text>
<text x="90.4" y="287.2" font-size="4.4" fill="#3a3a3a" text-anchor="middle">22</text>
<text x="184" y="287.2" font-size="4.4" fill="#3a3a3a" text-anchor="middle">22</text>
<text x="90.4" y="294.6" font-size="4.4" fill="#3a3a3a" text-anchor="middle">23</text>
<text x="184" y="294.6" font-size="4.4" fill="#3a3a3a" text-anchor="middle">23</text>
<text x="90.4" y="301.9" font-size="4.4" fill="#3a3a3a" text-anchor="middle">24</text>
<text x="184" y="301.9" font-size="4.4" fill="#3a3a3a" text-anchor="middle">24</text>
<text x="90.4" y="309.2" font-size="4.4" fill="#3a3a3a" text-anchor="middle">25</text>
<text x="184" y="309.2" font-size="4.4" fill="#3a3a3a" text-anchor="middle">25</text>
<text x="90.4" y="316.6" font-size="4.4" fill="#3a3a3a" text-anchor="middle">26</text>
<text x="184" y="316.6" font-size="4.4" fill="#3a3a3a" text-anchor="middle">26</text>
<text x="90.4" y="323.9" font-size="4.4" fill="#3a3a3a" text-anchor="middle">27</text>
<text x="184" y="323.9" font-size="4.4" fill="#3a3a3a" text-anchor="middle">27</text>
<text x="90.4" y="331.2" font-size="4.4" fill="#3a3a3a" text-anchor="middle">28</text>
<text x="184" y="331.2" font-size="4.4" fill="#3a3a3a" text-anchor="middle">28</text>
<text x="90.4" y="338.5" font-size="4.4" fill="#3a3a3a" text-anchor="middle">29</text>
<text x="184" y="338.5" font-size="4.4" fill="#3a3a3a" text-anchor="middle">29</text>
<text x="90.4" y="345.9" font-size="4.4" fill="#3a3a3a" text-anchor="middle">30</text>
<text x="184" y="345.9" font-size="4.4" fill="#3a3a3a" text-anchor="middle">30</text>
</g>
<g id="nmos">
<rect x="143" y="182.3" width="5.4" height="1.4" fill="#7c7c7c"/>
<rect x="143" y="189.6" width="5.4" height="1.4" fill="#7c7c7c"/>
<rect x="143" y="197.0" width="5.4" height="1.4" fill="#7c7c7c"/>
<rect x="116.5" y="180" width="9.4" height="20.7" fill="#c6c6c6"/>
<circle cx="120.7" cy="190.4" r="1.7" fill="#f6f6f6"/>
<circle cx="120.7" cy="190.4" r="0.7" fill="#222"/>
<rect x="125.3" y="179.2" width="18.5" height="21.7" rx="1" fill="#1c1c1c"/>
<rect x="126.5" y="180.4" width="16.1" height="19.3" fill="#353535"/>
<text transform="translate(135.1,198.1) rotate(-90)" font-size="5.8" fill="#fff" textLength="15.4" lengthAdjust="spacingAndGlyphs">NMOS</text>
</g>
<g id="arduino">
<path d="M251,140 Q251,137.4 253.6,137.4 H287.8 L296.6,129.8 H391.4 L398,137.3 H402.5 Q404.9,137.3 404.9,139.7 V325.5 Q404.9,327.8 402.7,327.8 H253.2 Q251,327.8 251,325.5 Z" fill="#31709c"/>
<rect x="254.9" y="140.8" width="6.8" height="58.9" fill="#2b2723"/>
<path d="M256.4,142.1H261.0V146.4H259.2V143.6H256.4ZM256.4,149.5H261.0V153.8H259.2V151.0H256.4ZM256.4,156.8H261.0V161.1H259.2V158.3H256.4ZM256.4,164.2H261.0V168.5H259.2V165.7H256.4ZM256.4,171.5H261.0V175.8H259.2V173.0H256.4ZM256.4,178.9H261.0V183.2H259.2V180.4H256.4ZM256.4,186.3H261.0V190.6H259.2V187.8H256.4ZM256.4,193.6H261.0V197.9H259.2V195.1H256.4Z" fill="#6c6c6c"/>
<path d="M256.4,143.6h2.8v2.8h-2.8zM256.4,151.0h2.8v2.8h-2.8zM256.4,158.3h2.8v2.8h-2.8zM256.4,165.7h2.8v2.8h-2.8zM256.4,173.0h2.8v2.8h-2.8zM256.4,180.4h2.8v2.8h-2.8zM256.4,187.8h2.8v2.8h-2.8zM256.4,195.1h2.8v2.8h-2.8z" fill="#080808"/>
<rect x="254.9" y="203.6" width="6.8" height="73.6" fill="#2b2723"/>
<path d="M256.4,204.9H261.0V209.2H259.2V206.4H256.4ZM256.4,212.3H261.0V216.6H259.2V213.8H256.4ZM256.4,219.6H261.0V223.9H259.2V221.1H256.4ZM256.4,227.0H261.0V231.3H259.2V228.5H256.4ZM256.4,234.3H261.0V238.6H259.2V235.8H256.4ZM256.4,241.7H261.0V246.0H259.2V243.2H256.4ZM256.4,249.1H261.0V253.4H259.2V250.6H256.4ZM256.4,256.4H261.0V260.7H259.2V257.9H256.4ZM256.4,263.8H261.0V268.1H259.2V265.3H256.4ZM256.4,271.1H261.0V275.4H259.2V272.6H256.4Z" fill="#6c6c6c"/>
<path d="M256.4,206.4h2.8v2.8h-2.8zM256.4,213.8h2.8v2.8h-2.8zM256.4,221.1h2.8v2.8h-2.8zM256.4,228.5h2.8v2.8h-2.8zM256.4,235.8h2.8v2.8h-2.8zM256.4,243.2h2.8v2.8h-2.8zM256.4,250.6h2.8v2.8h-2.8zM256.4,257.9h2.8v2.8h-2.8zM256.4,265.3h2.8v2.8h-2.8zM256.4,272.6h2.8v2.8h-2.8z" fill="#080808"/>
<rect x="394.6" y="140.8" width="6.8" height="44.2" fill="#2b2723"/>
<path d="M396.1,142.1H400.7V146.4H398.9V143.6H396.1ZM396.1,149.5H400.7V153.8H398.9V151.0H396.1ZM396.1,156.8H400.7V161.1H398.9V158.3H396.1ZM396.1,164.2H400.7V168.5H398.9V165.7H396.1ZM396.1,171.5H400.7V175.8H398.9V173.0H396.1ZM396.1,178.9H400.7V183.2H398.9V180.4H396.1Z" fill="#6c6c6c"/>
<path d="M396.1,143.6h2.8v2.8h-2.8zM396.1,151.0h2.8v2.8h-2.8zM396.1,158.3h2.8v2.8h-2.8zM396.1,165.7h2.8v2.8h-2.8zM396.1,173.0h2.8v2.8h-2.8zM396.1,180.4h2.8v2.8h-2.8z" fill="#080808"/>
<rect x="394.6" y="192.1" width="6.8" height="58.9" fill="#2b2723"/>
<path d="M396.1,193.4H400.7V197.7H398.9V194.9H396.1ZM396.1,200.8H400.7V205.1H398.9V202.3H396.1ZM396.1,208.1H400.7V212.4H398.9V209.6H396.1ZM396.1,215.5H400.7V219.8H398.9V217.0H396.1ZM396.1,222.8H400.7V227.1H398.9V224.3H396.1ZM396.1,230.2H400.7V234.5H398.9V231.7H396.1ZM396.1,237.6H400.7V241.9H398.9V239.1H396.1ZM396.1,244.9H400.7V249.2H398.9V246.4H396.1Z" fill="#6c6c6c"/>
<path d="M396.1,194.9h2.8v2.8h-2.8zM396.1,202.3h2.8v2.8h-2.8zM396.1,209.6h2.8v2.8h-2.8zM396.1,217.0h2.8v2.8h-2.8zM396.1,224.3h2.8v2.8h-2.8zM396.1,231.7h2.8v2.8h-2.8zM396.1,239.1h2.8v2.8h-2.8zM396.1,246.4h2.8v2.8h-2.8z" fill="#080808"/>
<text transform="translate(265.2,142.6) rotate(180)" font-size="5.2" font-weight="bold" fill="#fff" text-anchor="end">RX←0</text>
<text transform="translate(265.2,150.0) rotate(180)" font-size="5.2" font-weight="bold" fill="#fff" text-anchor="end">TX→1</text>
<text transform="translate(265.2,157.3) rotate(180)" font-size="5.2" font-weight="bold" fill="#fff" text-anchor="end">2</text>
<text transform="translate(265.2,164.7) rotate(180)" font-size="5.2" font-weight="bold" fill="#fff" text-anchor="end">~3</text>
<text transform="translate(265.2,172.1) rotate(180)" font-size="5.2" font-weight="bold" fill="#fff" text-anchor="end">4</text>
<text transform="translate(265.2,179.4) rotate(180)" font-size="5.2" font-weight="bold" fill="#fff" text-anchor="end">~5</text>
<text transform="translate(265.2,186.8) rotate(180)" font-size="5.2" font-weight="bold" fill="#fff" text-anchor="end">~6</text>
<text transform="translate(265.2,194.1) rotate(180)" font-size="5.2" font-weight="bold" fill="#fff" text-anchor="end">7</text>
<text transform="translate(265.2,205.4) rotate(180)" font-size="5.2" font-weight="bold" fill="#fff" text-anchor="end">8</text>
<text transform="translate(265.2,212.8) rotate(180)" font-size="5.2" font-weight="bold" fill="#fff" text-anchor="end">~9</text>
<text transform="translate(265.2,220.1) rotate(180)" font-size="5.2" font-weight="bold" fill="#fff" text-anchor="end">~10</text>
<text transform="translate(265.2,227.5) rotate(180)" font-size="5.2" font-weight="bold" fill="#fff" text-anchor="end">~11</text>
<text transform="translate(265.2,234.9) rotate(180)" font-size="5.2" font-weight="bold" fill="#fff" text-anchor="end">12</text>
<text transform="translate(265.2,242.2) rotate(180)" font-size="5.2" font-weight="bold" fill="#fff" text-anchor="end">13</text>
<text transform="translate(265.2,249.6) rotate(180)" font-size="5.2" font-weight="bold" fill="#fff" text-anchor="end">GND</text>
<text transform="translate(265.2,257.3) rotate(180)" font-size="4.3" font-weight="bold" fill="#fff" text-anchor="end">AREF</text>
<text transform="translate(391.6,142.6) rotate(180)" font-size="5.2" font-weight="bold" fill="#fff" text-anchor="start">A5</text>
<text transform="translate(391.6,150.0) rotate(180)" font-size="5.2" font-weight="bold" fill="#fff" text-anchor="start">A4</text>
<text transform="translate(391.6,157.3) rotate(180)" font-size="5.2" font-weight="bold" fill="#fff" text-anchor="start">A3</text>
<text transform="translate(391.6,164.7) rotate(180)" font-size="5.2" font-weight="bold" fill="#fff" text-anchor="start">A2</text>
<text transform="translate(391.6,172.1) rotate(180)" font-size="5.2" font-weight="bold" fill="#fff" text-anchor="start">A1</text>
<text transform="translate(391.6,179.4) rotate(180)" font-size="5.2" font-weight="bold" fill="#fff" text-anchor="start">A0</text>
<text transform="translate(391.6,193.9) rotate(180)" font-size="5.2" font-weight="bold" fill="#fff" text-anchor="start">Vin</text>
<text transform="translate(391.6,201.3) rotate(180)" font-size="5.2" font-weight="bold" fill="#fff" text-anchor="start">GND</text>
<text transform="translate(391.6,208.6) rotate(180)" font-size="5.2" font-weight="bold" fill="#fff" text-anchor="start">GND</text>
<text transform="translate(391.6,216.0) rotate(180)" font-size="5.2" font-weight="bold" fill="#fff" text-anchor="start">5V</text>
<text transform="translate(391.6,223.4) rotate(180)" font-size="5.2" font-weight="bold" fill="#fff" text-anchor="start">3.3V</text>
<text transform="translate(391.6,231.0) rotate(180)" font-size="4.4" font-weight="bold" fill="#fff" text-anchor="start">RESET</text>
<text transform="translate(391.6,238.4) rotate(180)" font-size="4.4" font-weight="bold" fill="#fff" text-anchor="start">IOREF</text>
<rect x="280" y="142.7" width="1" height="104" fill="#fff" opacity="0.92"/>
<rect x="374.1" y="142.7" width="1" height="42.3" fill="#fff" opacity="0.92"/>
<rect x="374.1" y="193.7" width="1" height="35.2" fill="#fff" opacity="0.92"/>
<text transform="translate(277.9,205.6) rotate(-90)" font-size="6.2" font-weight="bold" fill="#fff" text-anchor="start" textLength="46.8" lengthAdjust="spacingAndGlyphs">DIGITAL (PWM ~)</text>
<text transform="translate(380.5,174.2) rotate(-90)" font-size="5.2" font-weight="bold" fill="#fff" text-anchor="start" textLength="30.8" lengthAdjust="spacingAndGlyphs">ANALOG IN</text>
<text transform="translate(380.8,213.7) rotate(-90)" font-size="5.8" font-weight="bold" fill="#fff" text-anchor="start" textLength="19.2" lengthAdjust="spacingAndGlyphs">POWER</text>
<circle cx="302.5" cy="137.3" r="4.3" fill="#f8f7f3" stroke="#c9ae52" stroke-width="1.1"/>
<circle cx="383.3" cy="136.8" r="4.3" fill="#f8f7f3" stroke="#c9ae52" stroke-width="1.1"/>
<circle cx="258.5" cy="284.3" r="4.3" fill="#f8f7f3" stroke="#c9ae52" stroke-width="1.1"/>
<circle cx="398" cy="287.4" r="4.3" fill="#f8f7f3" stroke="#c9ae52" stroke-width="1.1"/>
<rect x="298.8" y="151.0" width="3" height="9" fill="#b9b9b9"/>
<rect x="298.8" y="152.8" width="3" height="5.4" fill="#f1e4cf"/>
<text transform="translate(301.9,149.4) rotate(-90)" font-size="3.6" font-weight="bold" fill="#fff" text-anchor="start" textLength="5.6" lengthAdjust="spacingAndGlyphs">ON</text>
<rect x="285.4" y="163.7" width="15.2" height="34.2" rx="7.6" fill="none" stroke="#f4f8fb" stroke-width="0.9"/>
<text transform="translate(298.9,193.6) rotate(-90)" font-size="14.8" font-weight="normal" fill="#fff" text-anchor="start" textLength="25.6" lengthAdjust="spacingAndGlyphs" stroke="#31709c" stroke-width="0.22" paint-order="fill stroke">UNO</text>
<circle cx="292.8" cy="211.3" r="6.5" fill="none" stroke="#fff" stroke-width="3.4"/>
<circle cx="292.8" cy="226.6" r="6.5" fill="none" stroke="#fff" stroke-width="3.4"/>
<path d="M290.5,211.3h4.6M292.8,209v4.6M292.8,224.3v4.8" stroke="#fff" stroke-width="1.4" fill="none"/>
<text transform="translate(306.9,235.2) rotate(-90)" font-size="6.2" font-weight="bold" fill="#fff" text-anchor="start" textLength="31.6" lengthAdjust="spacingAndGlyphs">ARDUINO</text>
<rect x="284.4" y="242.5" width="3" height="9" fill="#b9b9b9"/>
<rect x="284.4" y="244.3" width="3" height="5.4" fill="#f1e4cf"/>
<rect x="298.8" y="242.5" width="3" height="9" fill="#b9b9b9"/>
<rect x="298.8" y="244.3" width="3" height="5.4" fill="#f1e4cf"/>
<rect x="305.8" y="242.5" width="3" height="9" fill="#b9b9b9"/>
<rect x="305.8" y="244.3" width="3" height="5.4" fill="#f1e4cf"/>
<text transform="translate(287.2,255.8) rotate(-90)" font-size="3.4" font-weight="bold" fill="#fff" text-anchor="middle">L</text>
<text transform="translate(301.6,257.2) rotate(-90)" font-size="3.4" font-weight="bold" fill="#fff" text-anchor="middle">TX</text>
<text transform="translate(308.6,257.2) rotate(-90)" font-size="3.4" font-weight="bold" fill="#fff" text-anchor="middle">RX</text>
<rect x="346.1" y="140" width="26.9" height="107.2" rx="1" fill="#1e1e1e"/>
<rect x="349.1" y="140" width="20.9" height="107.2" fill="#3e4042"/>
<path d="M346.9,144.2h2v4.4h-2zM370.2,144.2h2v4.4h-2zM346.9,151.5h2v4.4h-2zM370.2,151.5h2v4.4h-2zM346.9,158.8h2v4.4h-2zM370.2,158.8h2v4.4h-2zM346.9,166.1h2v4.4h-2zM370.2,166.1h2v4.4h-2zM346.9,173.4h2v4.4h-2zM370.2,173.4h2v4.4h-2zM346.9,180.7h2v4.4h-2zM370.2,180.7h2v4.4h-2zM346.9,188.0h2v4.4h-2zM370.2,188.0h2v4.4h-2zM346.9,195.3h2v4.4h-2zM370.2,195.3h2v4.4h-2zM346.9,202.6h2v4.4h-2zM370.2,202.6h2v4.4h-2zM346.9,209.9h2v4.4h-2zM370.2,209.9h2v4.4h-2zM346.9,217.2h2v4.4h-2zM370.2,217.2h2v4.4h-2zM346.9,224.5h2v4.4h-2zM370.2,224.5h2v4.4h-2zM346.9,231.8h2v4.4h-2zM370.2,231.8h2v4.4h-2zM346.9,239.1h2v4.4h-2zM370.2,239.1h2v4.4h-2z" fill="#f4f4f4"/>
<circle cx="358.9" cy="155" r="2.9" fill="#2b2b2b"/>
<circle cx="358.9" cy="232.6" r="2.9" fill="#2b2b2b"/>
<rect x="298.7" y="264.3" width="15.6" height="15.3" fill="#333"/>
<rect x="323" y="256.4" width="15" height="37" rx="7.5" fill="#2c6790"/>
<rect x="323.6" y="256.8" width="13.8" height="36.2" rx="6.9" fill="#cfd3d6"/>
<rect x="325.2" y="258.6" width="10.6" height="32.6" rx="5.3" fill="#e2e2e2"/>
<rect x="344.3" y="269.7" width="8.6" height="9.1" fill="#333"/>
<rect x="359.3" y="262.6" width="8.1" height="5" fill="#2e2e2e"/>
<rect x="360.2" y="260.4" width="1.5" height="2.2" fill="#eee"/>
<rect x="360.2" y="267.6" width="1.5" height="2.2" fill="#eee"/>
<rect x="362.7" y="260.4" width="1.5" height="2.2" fill="#eee"/>
<rect x="362.7" y="267.6" width="1.5" height="2.2" fill="#eee"/>
<rect x="365.2" y="260.4" width="1.5" height="2.2" fill="#eee"/>
<rect x="365.2" y="267.6" width="1.5" height="2.2" fill="#eee"/>
<circle cx="382.6" cy="258.6" r="9.6" fill="#285f88"/>
<circle cx="381.1" cy="257.8" r="9" fill="#ece8e4"/>
<circle cx="381.1" cy="257.8" r="7.9" fill="#dcdcdc"/>
<path d="M384.10,250.71 A7.7,7.7 0 0 1 384.10,264.89 Z" fill="#2e2e2e"/>
<circle cx="382.6" cy="280.1" r="9.6" fill="#285f88"/>
<circle cx="381.1" cy="279.3" r="9" fill="#ece8e4"/>
<circle cx="381.1" cy="279.3" r="7.9" fill="#dcdcdc"/>
<path d="M384.10,272.21 A7.7,7.7 0 0 1 384.10,286.39 Z" fill="#2e2e2e"/>
<rect x="348.8" y="297.2" width="2.9" height="5.6" rx="0.7" fill="#f1f1f1"/>
<rect x="354.6" y="297.2" width="2.9" height="5.6" rx="0.7" fill="#f1f1f1"/>
<rect x="359.9" y="297.2" width="2.9" height="5.6" rx="0.7" fill="#f1f1f1"/>
<rect x="347.2" y="302.3" width="18.7" height="10" fill="#303030"/>
<rect x="351.7" y="312.2" width="9.9" height="4.7" rx="0.8" fill="#f1f1f1"/>
<rect x="396" y="298" width="4.7" height="29.8" fill="#235778"/>
<rect x="398.3" y="329.6" width="2.4" height="6" fill="#b8b8b8"/>
<rect x="370.9" y="326.8" width="27.4" height="8.8" rx="1.6" fill="#2b2b2b"/>
<path d="M372.4,297.3 Q372.4,295.3 374.4,295.3 H394 Q396,295.3 396,297.3 V328 H372.4 Z" fill="#2a2a2a"/>
<path d="M373.3,298.8 H395.1 V318 Q395.1,326.6 386.5,326.6 H381.9 Q373.3,326.6 373.3,318 Z" fill="#3c3f41"/>
<rect x="373.3" y="296.4" width="21.8" height="1.6" rx="0.8" fill="#3c3f41"/>
<rect x="258.4" y="298" width="3" height="2.4" fill="#f0f0f0"/>
<rect x="270.4" y="298" width="3" height="2.4" fill="#f0f0f0"/>
<rect x="258.2" y="319" width="3.2" height="2.2" fill="#f0f0f0"/>
<rect x="264.2" y="319" width="3.2" height="2.2" fill="#f0f0f0"/>
<rect x="270.2" y="319" width="3.2" height="2.2" fill="#f0f0f0"/>
<rect x="256.6" y="299.7" width="18.5" height="19.8" rx="1.2" fill="#e6e4e2"/>
<circle cx="265.9" cy="309.5" r="5" fill="#b5432a"/>
<circle cx="283.8" cy="317.9" r="4.5" fill="#e9e9e9"/>
<circle cx="319.4" cy="317.9" r="3.9" fill="#e9e9e9"/>
<rect x="284.3" y="298.7" width="35.1" height="47.6" fill="#dedede"/>
<rect x="318.7" y="298.7" width="0.9" height="47.6" fill="#9a9a9a"/>
<rect x="296.5" y="300.2" width="10.2" height="0.7" fill="#b4b4b4"/>
</g>
<g id="usbcable">
<rect x="289.8" y="351.6" width="23.8" height="34.4" fill="#c9c9c9"/>
<rect x="295" y="351.6" width="6.6" height="34.4" fill="#d4d4d4"/>
<rect x="301.2" y="351.6" width="0.8" height="34.4" fill="#b2b2b2"/>
<rect x="300.6" y="370.4" width="2" height="2.6" fill="#a8a8a8"/>
<path d="M282.7,386.6 Q282.7,385 284.3,385 H318.6 Q320.2,385 320.2,386.6 V436 C320.2,443 318.6,447 315.4,450.7 H310 V461 H308.6 V463.8 H310 V472 H307.8 V483.2 Q307.8,489.2 301.9,489.2 Q296,489.2 296,483.2 V472 H293 V463.8 H294.6 V461 H293 V450.7 H287.4 C284.2,447 282.7,443 282.7,436 Z" fill="#303030"/>
<circle cx="282.3" cy="405.0" r="1.15" fill="#f4f5f7"/>
<circle cx="320.5" cy="405.0" r="1.15" fill="#f4f5f7"/>
<circle cx="282.3" cy="409.9" r="1.15" fill="#f4f5f7"/>
<circle cx="320.5" cy="409.9" r="1.15" fill="#f4f5f7"/>
<circle cx="282.3" cy="414.8" r="1.15" fill="#f4f5f7"/>
<circle cx="320.5" cy="414.8" r="1.15" fill="#f4f5f7"/>
<circle cx="282.3" cy="419.7" r="1.15" fill="#f4f5f7"/>
<circle cx="320.5" cy="419.7" r="1.15" fill="#f4f5f7"/>
<circle cx="282.3" cy="424.6" r="1.15" fill="#f4f5f7"/>
<circle cx="320.5" cy="424.6" r="1.15" fill="#f4f5f7"/>
<rect x="296.2" y="454.5" width="10.6" height="2.2" rx="1.1" fill="#1a1a1a"/>
<rect x="296.2" y="467.2" width="10.6" height="2.2" rx="1.1" fill="#1a1a1a"/>
<rect x="290" y="391.6" width="22.6" height="35.4" fill="#3a3a3a"/>
<g stroke="#1c1c1c" stroke-width="0.95" fill="none"><path d="M301.4,399V421.4"/><path d="M301.4,404.4C301.4,408.6 297.6,409.4 297.6,412.4V415.4"/><path d="M301.4,402.6C301.4,406.4 305.8,406.8 305.8,409.4V411.6"/></g>
<circle cx="301.4" cy="398.9" r="1.8" fill="#1c1c1c"/>
<path d="M300.2,420.8h2.4l-1.2,2.6z" fill="#1c1c1c"/>
<rect x="296.3" y="415" width="2.6" height="2.6" fill="#1c1c1c"/>
<circle cx="305.8" cy="412.4" r="1.35" fill="#1c1c1c"/>
</g>
<g id="psu">
<rect x="341.3" y="348.3" width="79.2" height="64.1" rx="2" fill="#dfdfdf"/>
<rect x="341.3" y="401" width="79.2" height="11.4" rx="2" fill="#dcdcdc"/>
<rect x="341.3" y="400" width="79.2" height="1" fill="#ececec"/>
<rect x="344.6" y="352.6" width="46.6" height="21.3" fill="#3a3a3a"/>
<rect x="346.2" y="354.20000000000005" width="43.4" height="18.1" fill="#c8d3d7"/>
<rect x="344.6" y="377" width="46.6" height="21.3" fill="#3a3a3a"/>
<rect x="346.2" y="378.6" width="43.4" height="18.1" fill="#c8d3d7"/>
<circle cx="404.9" cy="362.9" r="8.3" fill="#c4c4c4" stroke="#444" stroke-width="1.5"/>
<circle cx="404.9" cy="387.8" r="8.3" fill="#c4c4c4" stroke="#444" stroke-width="1.5"/>
<circle cx="399.3" cy="363" r="0.9" fill="#333"/>
<circle cx="408.8" cy="391.7" r="0.9" fill="#333"/>
<circle cx="413.6" cy="353.6" r="0.9" fill="none" stroke="#a8a8a8" stroke-width="0.4"/>
<text x="415.2" y="354.5" font-size="2.4" fill="#a8a8a8">C.V</text>
<text x="396" y="372.2" font-size="2.4" fill="#a8a8a8">0</text>
<text x="413" y="372.2" font-size="2.4" fill="#a8a8a8">30.0</text>
<circle cx="413.6" cy="378.3" r="0.9" fill="none" stroke="#a8a8a8" stroke-width="0.4"/>
<text x="415.2" y="379.2" font-size="2.4" fill="#a8a8a8">C.C</text>
<text x="396" y="396.6" font-size="2.4" fill="#a8a8a8">0</text>
<text x="413" y="396.6" font-size="2.4" fill="#a8a8a8">5.00</text>
<text x="400.4" y="406.4" font-size="2.6" fill="#c6c6c6" textLength="9.6" lengthAdjust="spacingAndGlyphs">POWER</text>
<text x="400.4" y="409.4" font-size="2.6" fill="#c6c6c6" textLength="9.6" lengthAdjust="spacingAndGlyphs">SUPPLY</text>
<path d="M415.4,404.6l-1.4,2.6h1l-0.8,2.4" stroke="#c2c2c2" stroke-width="0.5" fill="none"/>
<rect x="344.6" y="404" width="18" height="6.1" rx="3" fill="#d3d3d3"/>
<rect x="344.6" y="404" width="9.4" height="6.1" rx="2.8" fill="#4c4c4c" stroke="#3a3a3a" stroke-width="0.5"/>
<text x="357.4" y="408.3" font-size="3.6" font-weight="bold" fill="#5a5a5a" text-anchor="middle">off</text>
<circle cx="377.4" cy="406.8" r="3.4" fill="#c4101a"/>
<circle cx="384.8" cy="406.8" r="3.3" fill="#3a3a3a"/>
</g>
<g id="motor">
<path d="M138.3,370.8 H181.3 A34.5,34.5 0 0 1 181.3,419.4 H138.3 A34.5,34.5 0 0 1 138.3,370.8 Z" fill="#c1c1c1" stroke="#c1c1c1" stroke-width="4" stroke-linejoin="round"/>
<circle cx="160.2" cy="378.3" r="4.6000000000000005" fill="#b2b2b2"/>
<circle cx="160.2" cy="378.3" r="3.7" fill="#666"/>
<circle cx="141.6" cy="395.1" r="5.1000000000000005" fill="#b2b2b2"/>
<circle cx="141.6" cy="395.1" r="4.2" fill="#666"/>
<circle cx="179.7" cy="395.1" r="5.1000000000000005" fill="#b2b2b2"/>
<circle cx="179.7" cy="395.1" r="4.2" fill="#666"/>
<polygon points="159.46,384.23 160.94,384.23 161.56,387.32 162.91,387.68 165.00,385.31 166.28,386.05 165.27,389.04 166.26,390.03 169.25,389.02 169.99,390.30 167.62,392.39 167.98,393.74 171.07,394.36 171.07,395.84 167.98,396.46 167.62,397.81 169.99,399.90 169.25,401.18 166.26,400.17 165.27,401.16 166.28,404.15 165.00,404.89 162.91,402.52 161.56,402.88 160.94,405.97 159.46,405.97 158.84,402.88 157.49,402.52 155.40,404.89 154.12,404.15 155.13,401.16 154.14,400.17 151.15,401.18 150.41,399.90 152.78,397.81 152.42,396.46 149.33,395.84 149.33,394.36 152.42,393.74 152.78,392.39 150.41,390.30 151.15,389.02 154.14,390.03 155.13,389.04 154.12,386.05 155.40,385.31 157.49,387.68 158.84,387.32" fill="#f7cf2e"/>
<circle cx="160.2" cy="395.1" r="4.4" fill="#dcc670"/>
<rect x="151.2" y="421.4" width="3.6" height="4.6" rx="0.6" fill="#1e1e1e"/>
<rect x="165.9" y="421.4" width="3.6" height="4.6" rx="0.6" fill="#c8161c"/>
</g>
<g id="rled">
<path d="M234.3,383.6 L234.7,389.6" stroke="#9a9a9a" stroke-width="1" fill="none"/>
<path d="M240.8,384 L239.4,389.6" stroke="#9a9a9a" stroke-width="1" fill="none"/>
<path d="M231.3,390.6 Q231.3,389.2 232.7,389.2 H241 Q242.4,389.2 242.4,390.6 V400.6 Q242.4,405.6 236.9,405.6 Q231.3,405.6 231.3,400.6 Z" fill="#88781c"/>
<rect x="231.3" y="389.2" width="11.1" height="2" rx="1" fill="#7a6c18"/>
<path d="M240.8,318 V350" stroke="#8c8c98" stroke-width="1.1" fill="none"/>
<clipPath id="rclip"><path d="M239.8,323.4 H241.8 L244.2,326.2 Q244.6,326.6 244.6,327.2 V329.8 Q244.6,330.6 243.8,331 V337.4 Q244.6,337.8 244.6,338.6 V341 Q244.6,341.8 244.2,342.2 L241.8,344.5 H239.8 L237.4,342.2 Q237,341.8 237,341 V338.6 Q237,337.8 237.8,337.4 V331 Q237,330.6 237,329.8 V327.2 Q237,326.6 237.4,326.2 Z"/></clipPath>
<path d="M239.8,323.4 H241.8 L244.2,326.2 Q244.6,326.6 244.6,327.2 V329.8 Q244.6,330.6 243.8,331 V337.4 Q244.6,337.8 244.6,338.6 V341 Q244.6,341.8 244.2,342.2 L241.8,344.5 H239.8 L237.4,342.2 Q237,341.8 237,341 V338.6 Q237,337.8 237.8,337.4 V331 Q237,330.6 237,329.8 V327.2 Q237,326.6 237.4,326.2 Z" fill="#dcb169"/>
<g clip-path="url(#rclip)">
<rect x="236" y="332.2" width="10" height="1.6" fill="#7c3212"/>
<rect x="236" y="335.7" width="10" height="1.8" fill="#f2141a"/>
<rect x="236" y="338.8" width="10" height="2.5" fill="#f2141a"/>
</g>
</g>
<g id="wires">
<path d="M152.1,35.5 L138.2,35.5 Q130.6,35.5 130.6,43.1 L130.6,68.8 Q130.6,76.4 138.2,76.4 L234.6,76.4 Q242.2,76.4 242.2,84.0 L242.2,181.0 Q242.2,188.6 249.8,188.6 L258.4,188.6" fill="none" stroke="#18a81e" stroke-width="1.85" stroke-linecap="round" stroke-linejoin="round"/>
<path d="M152.1,43.0 L148.0,43.0 Q140.4,43.0 140.4,50.6 L140.4,101.4 Q140.4,109.0 148.0,109.0 L191.9,109.0 Q199.5,109.0 199.5,116.6 L199.5,131.8" fill="none" stroke="#e3000f" stroke-width="1.85" stroke-linecap="round" stroke-linejoin="round"/>
<path d="M152.1,50.4 L152.1,50.4 Q146.2,50.4 146.2,56.3 L146.2,94.6 Q146.2,102.2 153.8,102.2 L199.2,102.2 Q206.8,102.2 206.8,109.8 L206.8,131.8" fill="none" stroke="#1c1c1c" stroke-width="1.85" stroke-linecap="round" stroke-linejoin="round"/>
<path d="M177.4,183.0 H206.7" fill="none" stroke="#1c1c1c" stroke-width="1.85" stroke-linecap="round" stroke-linejoin="round"/>
<path d="M177.4,197.7 L239.0,197.7 Q246.6,197.7 246.6,205.3 L246.6,222.1 Q246.6,229.7 254.2,229.7 L258.4,229.7" fill="none" stroke="#f6d312" stroke-width="1.85" stroke-linecap="round" stroke-linejoin="round"/>
<path d="M206.7,212.3 L215.6,212.3 Q223.2,212.3 223.2,204.7 L223.2,129.3 Q223.2,121.7 230.8,121.7 L414.4,121.7 Q422.0,121.7 422.0,129.3 L422.0,202.7 Q422.0,210.3 414.4,210.3 L398.0,210.3" fill="none" stroke="#1c1c1c" stroke-width="1.85" stroke-linecap="round" stroke-linejoin="round"/>
<path d="M199.3,219.7 L223.2,219.7 Q230.8,219.7 230.8,212.1 L230.8,134.4 Q230.8,126.8 238.4,126.8 L409.7,126.8 Q417.3,126.8 417.3,134.4 L417.3,188.2 Q417.3,195.8 409.7,195.8 L398.0,195.8" fill="none" stroke="#e3000f" stroke-width="1.85" stroke-linecap="round" stroke-linejoin="round"/>
<path d="M398.0,195.8 L426.1,195.8 Q433.7,195.8 433.7,203.4 L433.7,437.4 Q433.7,444.2 426.9,444.2 L384.1,444.2 Q377.3,444.2 377.3,437.4 L377.3,407.0" fill="none" stroke="#e3000f" stroke-width="1.85" stroke-linecap="round" stroke-linejoin="round"/>
<path d="M398.0,210.3 L418.8,210.3 Q426.4,210.3 426.4,217.9 L426.4,427.5 Q426.4,434.3 419.6,434.3 L391.6,434.3 Q384.8,434.3 384.8,427.5 L384.8,407.0" fill="none" stroke="#1c1c1c" stroke-width="1.85" stroke-linecap="round" stroke-linejoin="round"/>
<path d="M206.7,227.0 L226.8,227.0 Q234.4,227.0 234.4,234.6 L234.4,384.0" fill="none" stroke="#1c1c1c" stroke-width="1.85" stroke-linecap="round" stroke-linejoin="round"/>
<path d="M258.4,222.0 L248.5,222.0 Q240.9,222.0 240.9,229.6 L240.9,318.4" fill="none" stroke="#e3000f" stroke-width="1.85" stroke-linecap="round" stroke-linejoin="round"/>
<path d="M240.8,349.4 V384.4" fill="none" stroke="#e3000f" stroke-width="1.85" stroke-linecap="round" stroke-linejoin="round"/>
<path d="M155.4,190.3 L111.6,430.8 Q109.6,441.6 120.6,441.6 L146.7,441.6 Q153.2,441.6 153.2,435.1 L153.2,426.6" fill="none" stroke="#1c1c1c" stroke-width="1.85" stroke-linecap="round" stroke-linejoin="round"/>
<path d="M167.7,426.6 L167.7,435.1 Q167.7,441.6 174.2,441.6 L192.4,441.6 Q198.9,441.6 198.9,435.1 L198.9,344.3" fill="none" stroke="#e3000f" stroke-width="1.85" stroke-linecap="round" stroke-linejoin="round"/>
</g>
<g class="note">
<rect x="455.5" y="19.1" width="61.1" height="52.8" rx="3.6" fill="#dfe2e8" opacity="0.55"/>
<rect x="456.3" y="19.5" width="59.5" height="50.8" rx="3" fill="#fff"/>
<path d="M483.7,70.1 L485.9,74.3 L488.1,70.1 Z" fill="#fff"/>
<text x="461.6" y="32.3" font-size="7.3" fill="#33425e" stroke="#33425e" stroke-width="0.3" textLength="48.3" lengthAdjust="spacingAndGlyphs">Scene lighting</text>
<text x="461.6" y="42.6" font-size="7.3" fill="#33425e" stroke="#33425e" stroke-width="0.3" textLength="46.9" lengthAdjust="spacingAndGlyphs">(RGBW so will</text>
<text x="461.6" y="52.9" font-size="7.3" fill="#33425e" stroke="#33425e" stroke-width="0.3" textLength="44.2" lengthAdjust="spacingAndGlyphs">appear funny</text>
<text x="461.6" y="63.2" font-size="7.3" fill="#33425e" stroke="#33425e" stroke-width="0.3" textLength="40.4" lengthAdjust="spacingAndGlyphs">colors here)</text>
<circle cx="485.9" cy="79.6" r="4.6" fill="#fff" stroke="#1a1a1a" stroke-width="1.3"/>
<rect x="482.7" y="78.5" width="6.4" height="2.2" rx="0.5" fill="#1a1a1a"/>
</g>
<g class="note">
<rect x="60.1" y="380.3" width="44.1" height="43.0" rx="3.6" fill="#dfe2e8" opacity="0.55"/>
<rect x="60.9" y="380.7" width="42.5" height="41.0" rx="3" fill="#fff"/>
<path d="M79.8,421.5 L82.0,425.7 L84.2,421.5 Z" fill="#fff"/>
<text x="65.7" y="393.3" font-size="7.3" fill="#33425e" stroke="#33425e" stroke-width="0.3" textLength="30.4" lengthAdjust="spacingAndGlyphs">Air pump</text>
<text x="65.7" y="403.6" font-size="7.3" fill="#33425e" stroke="#33425e" stroke-width="0.3" textLength="31.7" lengthAdjust="spacingAndGlyphs">for steam</text>
<text x="65.7" y="413.8" font-size="7.3" fill="#33425e" stroke="#33425e" stroke-width="0.3" textLength="23.9" lengthAdjust="spacingAndGlyphs">feature</text>
<circle cx="82.0" cy="431.0" r="4.6" fill="#fff" stroke="#1a1a1a" stroke-width="1.3"/>
<rect x="78.8" y="429.9" width="6.4" height="2.2" rx="0.5" fill="#1a1a1a"/>
</g>
<g class="note">
<rect x="217.2" y="416.6" width="44.8" height="21.6" rx="3.6" fill="#dfe2e8" opacity="0.55"/>
<rect x="218.0" y="417.0" width="43.2" height="19.6" rx="3" fill="#fff"/>
<path d="M237.3,436.4 L239.5,440.6 L241.7,436.4 Z" fill="#fff"/>
<text x="223.0" y="428.5" font-size="7.3" fill="#33425e" stroke="#33425e" stroke-width="0.3" textLength="33.0" lengthAdjust="spacingAndGlyphs">Flashlight</text>
<circle cx="239.5" cy="445.7" r="4.6" fill="#fff" stroke="#1a1a1a" stroke-width="1.3"/>
<rect x="236.3" y="444.6" width="6.4" height="2.2" rx="0.5" fill="#1a1a1a"/>
</g>
<g class="note">
<rect x="446.3" y="362.0" width="113.7" height="42.4" rx="3.6" fill="#dfe2e8" opacity="0.55"/>
<rect x="447.1" y="362.4" width="112.1" height="40.4" rx="3" fill="#fff"/>
<path d="M500.5,402.6 L502.7,406.8 L504.9,402.6 Z" fill="#fff"/>
<text x="452.0" y="374.2" font-size="7.3" fill="#33425e" stroke="#33425e" stroke-width="0.3" textLength="60.7" lengthAdjust="spacingAndGlyphs">This power supply</text>
<text x="452.0" y="384.6" font-size="7.3" fill="#33425e" stroke="#33425e" stroke-width="0.3" textLength="101.8" lengthAdjust="spacingAndGlyphs">represents a 5V 4A AC adapter</text>
<text x="452.0" y="395.0" font-size="7.3" fill="#33425e" stroke="#33425e" stroke-width="0.3" textLength="95.3" lengthAdjust="spacingAndGlyphs">plugged in to the barrel jack</text>
<circle cx="502.7" cy="412.0" r="4.6" fill="#fff" stroke="#1a1a1a" stroke-width="1.3"/>
<rect x="499.5" y="410.9" width="6.4" height="2.2" rx="0.5" fill="#1a1a1a"/>
</g>
</svg></body></html>
